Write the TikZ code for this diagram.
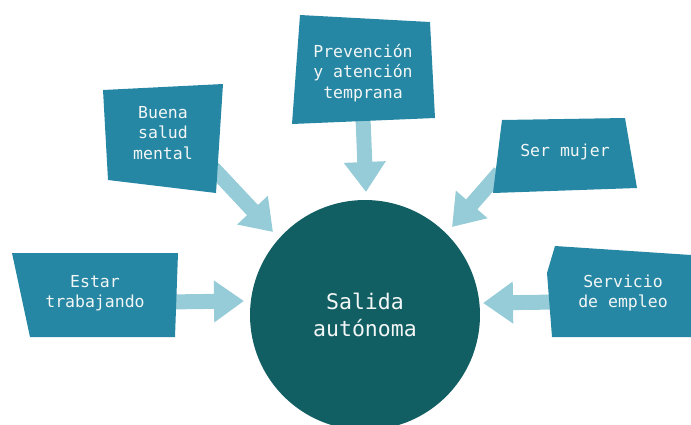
\documentclass[tikz,border=0pt]{standalone}
\usepackage{fontspec}
\setmonofont{DejaVu Sans Mono}
\usetikzlibrary{arrows.meta}
\definecolor{boxblue}{HTML}{2587A3}
\definecolor{goalteal}{HTML}{115E63}
\definecolor{flowblue}{HTML}{96CCD8}
\definecolor{txtwhite}{HTML}{F2F6F6}
\pgfdeclarelayer{back}
\pgfdeclarelayer{mid}
\pgfsetlayers{back,mid,main}

\begin{document}
\begin{tikzpicture}[x=1pt, y=-1pt,
  box/.style={align=center, text=txtwhite, inner sep=0pt, font=\ttfamily\fontsize{16.5}{20.5}\selectfont},
  goal/.style={circle, fill=goalteal, minimum size=230pt, align=center, text=txtwhite, font=\ttfamily\fontsize{21.5}{27}\selectfont},
  plate/.style={fill=boxblue},
  flow/.style={draw=flowblue, line width=15pt, -{Triangle[length=30pt,width=40pt]}}
]
\useasboundingbox (0,0) rectangle (691,424);

% factors and the goal
\node[goal] (exit) at (365,315) {Salida\\autónoma};
\node[box, minimum width=140pt, minimum height=80pt] (work) at (95,293) {Estar\\trabajando};
\node[box, minimum width=100pt, minimum height=70pt] (health) at (163,133) {Buena\\salud\\mental};
\node[box, minimum height=90pt] (early) at (363,73) {Prevención\\y atención\\temprana};
\node[box, minimum width=130pt, minimum height=40pt] (woman) at (565,152) {Ser mujer};
\node[box, minimum width=130pt] (employ) at (623,293) {Servicio\\de empleo};

% arrow tips near the circle
\coordinate (tip1) at (244,301);
\coordinate (tip2) at (273,232);
\coordinate (tip3) at (366,192);
\coordinate (tip4) at (452,227);
\coordinate (tip5) at (483,303);

% skewed plates behind the labels
\begin{pgfonlayer}{mid}
\fill[plate] (12,253) -- (178,253) -- (175,337) -- (30,337) -- cycle;
\fill[plate] (103,90) -- (223,84) -- (216,193) -- (108,180) -- cycle;
\fill[plate] (300,15) -- (430,22) -- (435,118) -- (292,124) -- cycle;
\fill[plate] (502,120) -- (625,118) -- (637,188) -- (493,193) -- cycle;
\fill[plate] (555,246) -- (691,255) -- (691,337) -- (552,337) -- (547,273) -- cycle;
\end{pgfonlayer}

\begin{pgfonlayer}{back}
\draw[flow] ([yshift=-9pt]work.east) -- (tip1);
\draw[flow] (health.south east) -- (tip2);
\draw[flow] (early.south) -- (tip3);
\draw[flow] (woman.south west) -- (tip4);
\draw[flow] ([yshift=-9pt]employ.west) -- (tip5);
\end{pgfonlayer}
\end{tikzpicture}
\end{document}
